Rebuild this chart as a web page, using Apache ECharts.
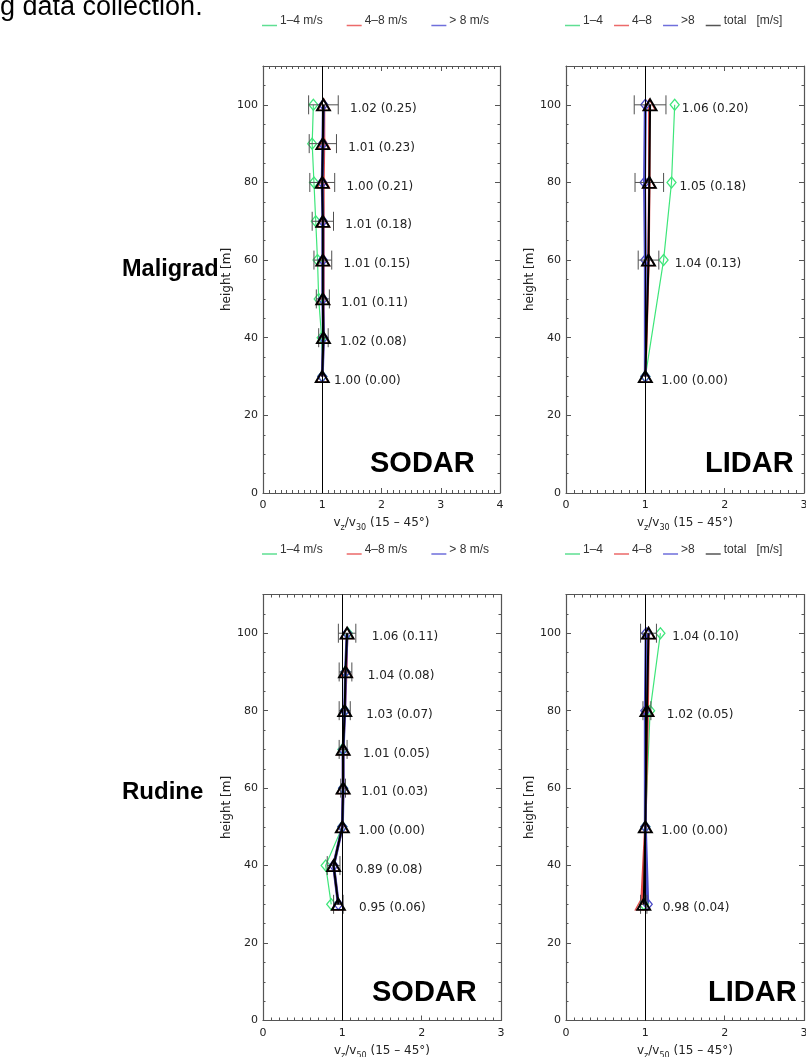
<!DOCTYPE html>
<html>
<head>
<meta charset="utf-8">
<script src="https://cdn.jsdelivr.net/npm/echarts@6/dist/echarts.min.js"></script>
<style>
  html, body { margin: 0; padding: 0; background: #fff; overflow: hidden; }
  #chart { width: 806px; height: 1057px; }
</style>
</head>
<body>
<div id="chart"></div>
<script>
// Wind-speed ratio profiles v_z / v_ref (15–45° sector), per site and instrument.
// Each profile: heights [m], mean ratio of all data with its std, and the
// mean ratio for three wind-speed classes.

// Maligrad – SODAR (reference height 30 m)
const maligradSodarHeights = [30, 40, 50, 60, 70, 80, 90, 100];
const maligradSodarMean    = [1.00, 1.02, 1.01, 1.01, 1.01, 1.00, 1.01, 1.02];
const maligradSodarStd     = [0.00, 0.08, 0.11, 0.15, 0.18, 0.21, 0.23, 0.25];
const maligradSodarLow     = [1.00, 0.99, 0.94, 0.92, 0.89, 0.86, 0.83, 0.85];
const maligradSodarMid     = [1.00, 1.02, 1.02, 1.02, 1.02, 1.02, 1.03, 1.03];
const maligradSodarHigh    = [1.00, 1.02, 1.01, 1.01, 1.01, 1.00, 1.01, 1.02];

// Maligrad – LIDAR (reference height 30 m)
const maligradLidarHeights = [30, 60, 80, 100];
const maligradLidarMean    = [1.00, 1.04, 1.05, 1.06];
const maligradLidarStd     = [0.00, 0.13, 0.18, 0.20];
const maligradLidarLow     = [1.00, 1.23, 1.33, 1.37];
const maligradLidarMid     = [1.00, 1.04, 1.05, 1.05];
const maligradLidarHigh    = [1.00, 1.00, 0.99, 1.00];

// Rudine – SODAR (reference height 50 m)
const rudineSodarHeights = [30, 40, 50, 60, 70, 80, 90, 100];
const rudineSodarMean    = [0.95, 0.89, 1.00, 1.01, 1.01, 1.03, 1.04, 1.06];
const rudineSodarStd     = [0.06, 0.08, 0.00, 0.03, 0.05, 0.07, 0.08, 0.11];
const rudineSodarLow     = [0.86, 0.79, 1.00, 1.01, 1.00, 1.03, 1.04, 1.07];
const rudineSodarMid     = [0.95, 0.89, 1.00, 1.01, 1.01, 1.03, 1.05, 1.06];
const rudineSodarHigh    = [0.95, 0.89, 1.00, 1.01, 1.01, 1.03, 1.04, 1.06];

// Rudine – LIDAR (reference height 50 m)
const rudineLidarHeights = [30, 50, 80, 100];
const rudineLidarMean    = [0.98, 1.00, 1.02, 1.04];
const rudineLidarStd     = [0.04, 0.00, 0.05, 0.10];
const rudineLidarLow     = [0.98, 1.00, 1.06, 1.19];
const rudineLidarMid     = [0.95, 1.00, 1.03, 1.04];
const rudineLidarHigh    = [1.03, 1.00, 1.00, 1.01];

// Axis ranges and tick labels
const xMaxPerPanel = [4, 3, 3, 3];
const yMax = 110;
const refHeightLabel = ['30', '30', '50', '50'];

// Legend entries
const sodarClasses = ['1–4 m/s', '4–8 m/s', '> 8 m/s'];
const lidarClasses = ['1–4', '4–8', '>8', 'total'];

const siteNames = ['Maligrad', 'Rudine'];
const instrumentNames = ['SODAR', 'LIDAR', 'SODAR', 'LIDAR'];

// ---------------------------------------------------------------
const FONT_PLOT = 'DejaVu Sans';
const FONT_HEAD = 'Liberation Sans';
const AXIS_COLOR = '#555';
const TEXT_COLOR = '#222';
const GREEN = '#3ee67a';
const RED = '#e24848';
const BLUE = '#4a4ac6';
const LABEL_PAD = 0.2;   // gap (in ratio units) between error bar and its label
const CAP = 9.5;         // half-height of error-bar caps, px

const panels = [
  { h: maligradSodarHeights, mean: maligradSodarMean, sd: maligradSodarStd,
    low: maligradSodarLow, mid: maligradSodarMid, high: maligradSodarHigh, names: sodarClasses },
  { h: maligradLidarHeights, mean: maligradLidarMean, sd: maligradLidarStd,
    low: maligradLidarLow, mid: maligradLidarMid, high: maligradLidarHigh, names: lidarClasses },
  { h: rudineSodarHeights, mean: rudineSodarMean, sd: rudineSodarStd,
    low: rudineSodarLow, mid: rudineSodarMid, high: rudineSodarHigh, names: sodarClasses },
  { h: rudineLidarHeights, mean: rudineLidarMean, sd: rudineLidarStd,
    low: rudineLidarLow, mid: rudineLidarMid, high: rudineLidarHigh, names: lidarClasses }
];

const grids = [
  { left: 263, top: 66, width: 237, height: 427, outerBoundsMode: 'none' },
  { left: 566, top: 66, width: 238, height: 427, outerBoundsMode: 'none' },
  { left: 263, top: 594.5, width: 238, height: 426, outerBoundsMode: 'none' },
  { left: 566, top: 594.5, width: 238, height: 426, outerBoundsMode: 'none' }
];

const axisLineStyle = { show: true, onZero: false, lineStyle: { color: AXIS_COLOR, width: 1.2 } };
const tickStyle = { color: AXIS_COLOR, width: 1 };

const xAxes = [];
const yAxes = [];
grids.forEach((g, i) => {
  const xBase = {
    gridIndex: i, type: 'value', min: 0, max: xMaxPerPanel[i], interval: 1,
    axisLine: axisLineStyle,
    axisTick: { show: true, inside: true, length: 5, lineStyle: tickStyle },
    minorTick: { show: true, splitNumber: 10, length: 3, lineStyle: tickStyle },
    splitLine: { show: false }, minorSplitLine: { show: false }
  };
  xAxes.push(Object.assign({}, xBase, {
    position: 'bottom',
    axisLabel: { margin: 7, fontSize: 11, fontFamily: FONT_PLOT, color: TEXT_COLOR },
    name: '{m|v}{s|z}{m|/v}{s|' + refHeightLabel[i] + '}{m| (15 – 45°)}',
    nameLocation: 'middle', nameGap: 21,
    nameTextStyle: {
      color: TEXT_COLOR,
      rich: {
        m: { fontSize: 12, fontFamily: FONT_PLOT, color: TEXT_COLOR, lineHeight: 18 },
        s: { fontSize: 8, fontFamily: FONT_PLOT, color: TEXT_COLOR, lineHeight: 8, verticalAlign: 'bottom' }
      }
    }
  }));
  xAxes.push(Object.assign({}, xBase, { position: 'top', axisLabel: { show: false } }));

  const yMajor = {
    gridIndex: i, type: 'value', min: 0, max: yMax, interval: 20,
    axisLine: axisLineStyle,
    axisTick: { show: true, inside: true, length: 5, lineStyle: tickStyle },
    splitLine: { show: false }
  };
  const yMinor = {
    gridIndex: i, type: 'value', min: 0, max: yMax, interval: 5,
    axisLine: { show: false, onZero: false },
    axisTick: { show: true, inside: true, length: 2.5, lineStyle: tickStyle },
    axisLabel: { show: false }, splitLine: { show: false }
  };
  yAxes.push(Object.assign({}, yMajor, {
    position: 'left',
    axisLabel: { margin: 5, fontSize: 11, fontFamily: FONT_PLOT, color: TEXT_COLOR, showMaxLabel: false },
    name: 'height [m]', nameLocation: 'middle', nameGap: 29,
    nameTextStyle: { fontSize: 12, fontFamily: FONT_PLOT, color: TEXT_COLOR }
  }));
  yAxes.push(Object.assign({}, yMinor, { position: 'left' }));
  yAxes.push(Object.assign({}, yMajor, { position: 'right', axisLabel: { show: false } }));
  yAxes.push(Object.assign({}, yMinor, { position: 'right' }));
});

// Horizontal error bars (mean ± std) with the "mean (std)" annotation
function errorBarItem(params, api) {
  const mean = api.value(0), h = api.value(1), sd = api.value(2);
  const lo = api.coord([mean - sd, h]);
  const hi = api.coord([mean + sd, h]);
  const tx = api.coord([mean + sd + LABEL_PAD, h]);
  const st = { stroke: '#505050', lineWidth: 1 };
  const children = [];
  if (sd > 0) {
    children.push({ type: 'line', shape: { x1: lo[0], y1: lo[1], x2: hi[0], y2: hi[1] }, style: st });
    children.push({ type: 'line', shape: { x1: lo[0], y1: lo[1] - CAP, x2: lo[0], y2: lo[1] + CAP }, style: st });
    children.push({ type: 'line', shape: { x1: hi[0], y1: hi[1] - CAP, x2: hi[0], y2: hi[1] + CAP }, style: st });
  }
  children.push({
    type: 'text', x: tx[0], y: tx[1] + 4,
    style: {
      text: mean.toFixed(2) + ' (' + sd.toFixed(2) + ')',
      fontSize: 12, fontFamily: FONT_PLOT, fill: TEXT_COLOR,
      align: 'left', verticalAlign: 'middle'
    }
  });
  return { type: 'group', children: children };
}

const pairs = (vals, hs) => hs.map((h, k) => [vals[k], h]);

const series = [];
panels.forEach((p, i) => {
  const ax = { xAxisIndex: 2 * i, yAxisIndex: 4 * i };
  const classLine = (name, vals, color, width, symbol, size) => Object.assign({
    type: 'line', name: name, data: pairs(vals, p.h),
    symbol: symbol, symbolSize: size, showSymbol: true,
    lineStyle: { color: color, width: width },
    itemStyle: { color: 'rgba(255,255,255,0)', borderColor: color, borderWidth: 1.3 },
    emphasis: { disabled: true }, silent: true, z: 2
  }, ax);
  series.push(classLine(p.names[0], p.low, GREEN, 1.2, 'diamond', [9, 11]));
  series.push(classLine(p.names[1], p.mid, RED, 2.5, 'triangle', [12, 11]));
  series.push(classLine(p.names[2], p.high, BLUE, 3, 'diamond', [9, 11]));
  series.push(Object.assign({
    type: 'custom', name: 'std', renderItem: errorBarItem,
    data: p.h.map((h, k) => [p.mean[k], h, p.sd[k]]),
    encode: { x: 0, y: 1 }, clip: false, silent: true, z: 3
  }, ax));
  series.push(Object.assign({
    type: 'line', name: 'total', data: pairs(p.mean, p.h),
    symbol: 'triangle', symbolSize: [13, 11], showSymbol: true,
    lineStyle: { color: '#000', width: 2 },
    itemStyle: { color: 'rgba(255,255,255,0)', borderColor: '#000', borderWidth: 1.9 },
    emphasis: { disabled: true }, silent: true, z: 4,
    markLine: {
      silent: true, symbol: 'none', animation: false,
      label: { show: false },
      lineStyle: { color: '#000', width: 1, type: 'solid' },
      data: [{ xAxis: 1 }]
    }
  }, ax));
});

// Legend swatches: a short line sitting at the text baseline
const swatch = 'path://M0,0L0.01,0L0,0.01Z M0,9L15,9L15,10.5L0,10.5Z';
const legendColors = { '1–4 m/s': '#5fdf93', '4–8 m/s': '#ec6a6a', '> 8 m/s': '#6f6fdc',
                       '1–4': '#5fdf93', '4–8': '#ec6a6a', '>8': '#6f6fdc', 'total': '#555' };
function legendFor(names, left, top, gap) {
  return {
    left: left, top: top, orient: 'horizontal', itemGap: gap, padding: 0,
    itemWidth: 15, itemHeight: 10.5, icon: swatch, selectedMode: false,
    textStyle: { fontSize: 12, fontFamily: FONT_HEAD, color: '#333', padding: [0, 0, 0, -2] },
    formatter: n => (n === 'total' ? 'total   [m/s]' : n),
    data: names.map(n => ({ name: n, icon: swatch, itemStyle: { color: legendColors[n], borderWidth: 0 } }))
  };
}

const graphics = [
  { type: 'text', left: 0, top: -6,
    style: { text: 'g data collection.', fontSize: 27, fontFamily: FONT_HEAD, fill: '#000' } },
  { type: 'text', x: 122, y: 270,
    style: { text: siteNames[0], fontSize: 23.5, fontWeight: 'bold', fontFamily: FONT_HEAD, fill: '#000', verticalAlign: 'middle' } },
  { type: 'text', x: 122, y: 792,
    style: { text: siteNames[1], fontSize: 24, fontWeight: 'bold', fontFamily: FONT_HEAD, fill: '#000', verticalAlign: 'middle' } }
];
const instrumentPos = [[370, 464], [705, 464], [372, 993], [708, 993]];
instrumentNames.forEach((t, i) => {
  graphics.push({ type: 'text', x: instrumentPos[i][0], y: instrumentPos[i][1], z: 10,
    style: { text: t, fontSize: 29, fontWeight: 'bold', fontFamily: FONT_HEAD, fill: '#000', verticalAlign: 'middle' } });
});

const option = {
  animation: false,
  backgroundColor: '#fff',
  grid: grids,
  xAxis: xAxes,
  yAxis: yAxes,
  legend: [
    legendFor(sodarClasses, 262, 15, 24),
    legendFor(lidarClasses, 565, 15, 11),
    legendFor(sodarClasses, 262, 543.5, 24),
    legendFor(lidarClasses, 565, 543.5, 11)
  ],
  graphic: graphics,
  series: series
};

const chart = echarts.init(document.getElementById('chart'), null, { renderer: 'canvas' });
chart.setOption(option);
</script>
</body>
</html>
